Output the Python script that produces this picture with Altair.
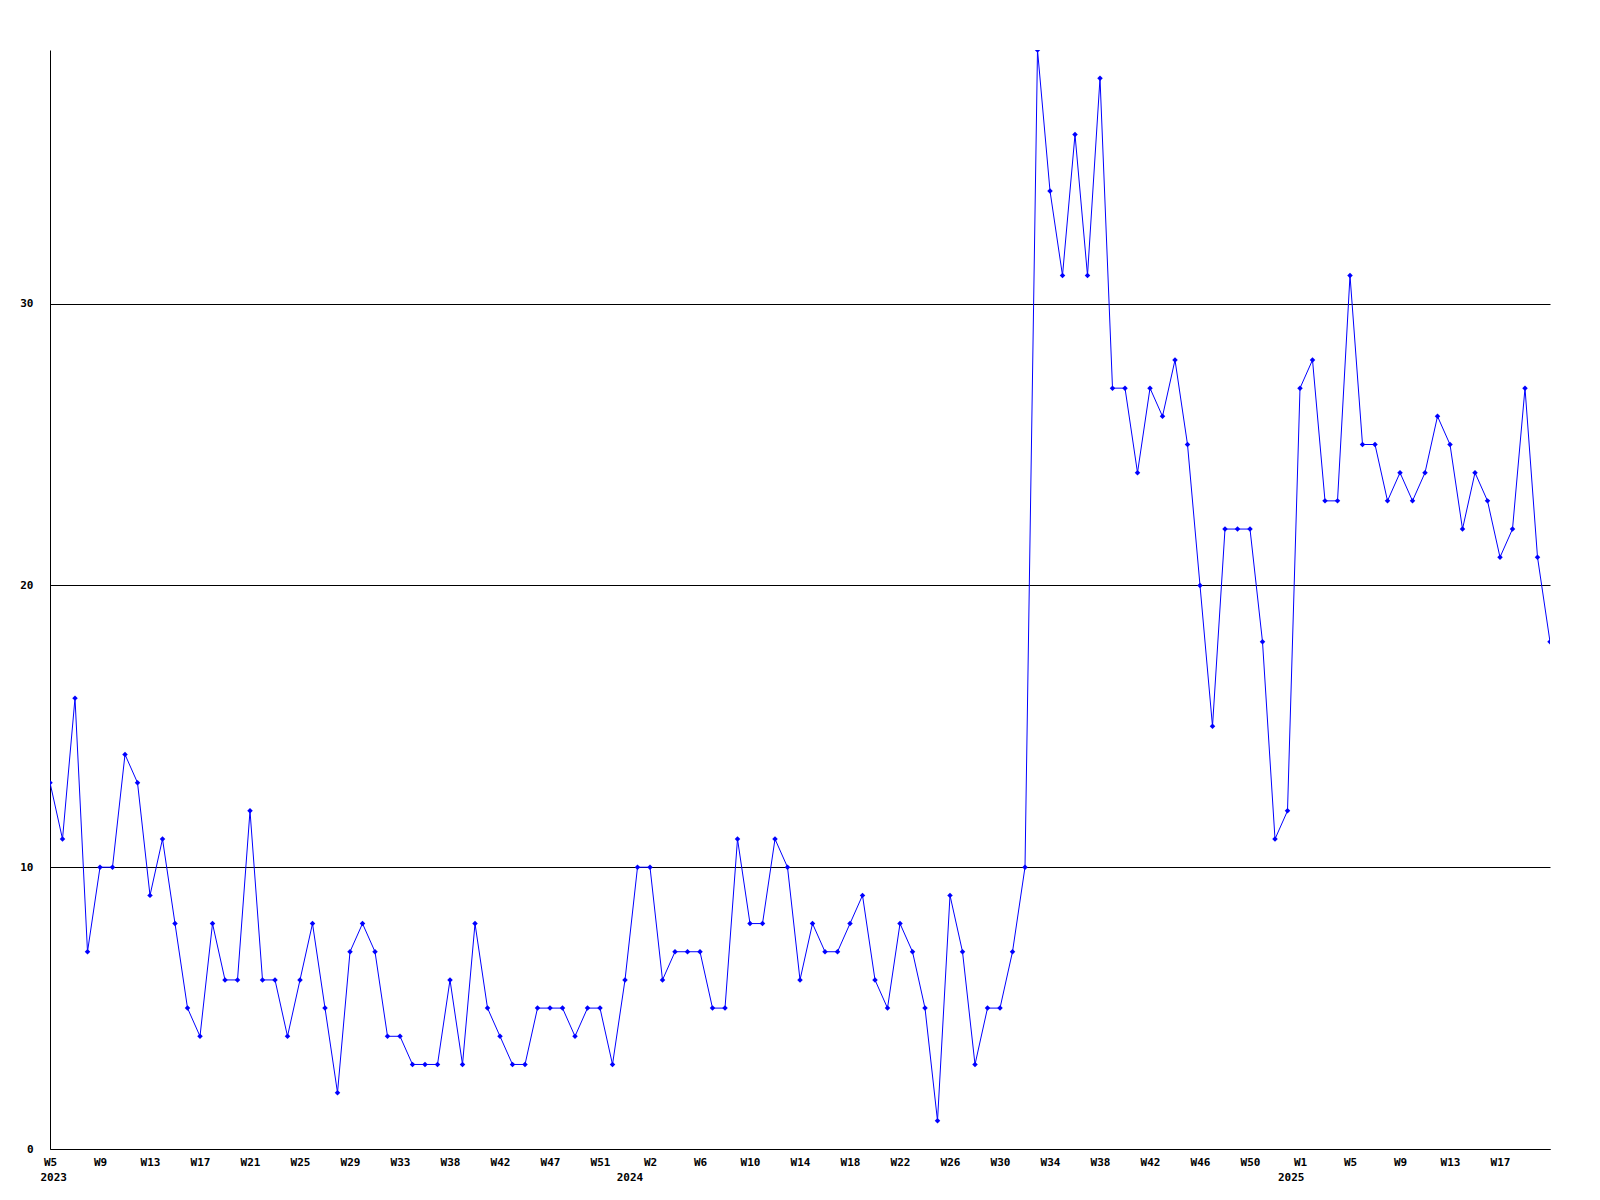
import json
import altair as alt
import pandas as pd

# Weekly values, 2023 W5 .. 2025 W21 (121 points)
values = [
    13, 11, 16, 7, 10, 10, 14, 13, 9, 11, 8, 5, 4, 8, 6, 6, 12, 6, 6, 4,
    6, 8, 5, 2, 7, 8, 7, 4, 4, 3, 3, 3, 6, 3, 8, 5, 4, 3, 3, 5,
    5, 5, 4, 5, 5, 3, 6, 10, 10, 6, 7, 7, 7, 5, 5, 11, 8, 8, 11, 10,
    6, 8, 7, 7, 8, 9, 6, 5, 8, 7, 5, 1, 9, 7, 3, 5, 5, 7, 10,
    39, 34, 31, 36, 31, 38, 27, 27, 24, 27, 26, 28, 25, 20, 15, 22, 22, 22, 18, 11,
    12, 27, 28, 23, 23, 31, 25, 25, 23, 24, 23, 24, 26, 25, 22, 24, 23, 21, 22, 27,
    21, 18,
]

# Tick labels, one every 4th point
tick_labels = [
    "W5", "W9", "W13", "W17", "W21", "W25", "W29", "W33", "W38", "W42",
    "W47", "W51", "W2", "W6", "W10", "W14", "W18", "W22", "W26", "W30",
    "W34", "W38", "W42", "W46", "W50", "W1", "W5", "W9", "W13", "W17",
]
tick_step = 4

# Year labels and where each year starts (in point index units)
year_labels = ["2023", "2024", "2025"]
year_at = [0.3, 46.4, 99.3]

y_ticks = [0, 10, 20, 30]

FONT = "DejaVu Sans Mono"
W, H = 1500, 1099
n = len(values)

df = pd.DataFrame({"i": list(range(n)), "v": values})
years = pd.DataFrame({"x": year_at, "label": year_labels})

tick_positions = [k * tick_step for k in range(len(tick_labels))]
label_expr = json.dumps(tick_labels) + f"[floor(datum.value / {tick_step})]"

xscale = alt.Scale(domain=[0, n - 1], nice=False, zero=False)
yscale = alt.Scale(domain=[0, 39], nice=False, zero=True)

x_enc = alt.X(
    "i:Q",
    scale=xscale,
    axis=alt.Axis(
        values=tick_positions,
        labelExpr=label_expr,
        title=None,
        ticks=False,
        grid=False,
        domainColor="black",
        domainWidth=1,
        labelFont=FONT,
        labelFontWeight="bold",
        labelFontSize=11,
        labelColor="black",
        labelPadding=7,
        labelAngle=0,
        labelFlush=False,
        labelOverlap=False,
    ),
)
y_enc = alt.Y(
    "v:Q",
    scale=yscale,
    axis=alt.Axis(
        values=y_ticks,
        title=None,
        ticks=False,
        grid=True,
        gridColor="black",
        gridOpacity=1,
        gridWidth=1,
        domainColor="black",
        domainWidth=1,
        labelFont=FONT,
        labelFontWeight="bold",
        labelFontSize=11,
        labelColor="black",
        labelPadding=17,
        labelFlush=False,
    ),
)

line = alt.Chart(df).mark_line(color="#0000FF", strokeWidth=1, clip=True).encode(x=x_enc, y=y_enc)
pts = alt.Chart(df).mark_point(
    shape="diamond", filled=True, color="#0000FF", size=30, opacity=1, clip=True
).encode(x=alt.X("i:Q", scale=xscale), y=alt.Y("v:Q", scale=yscale))

yr = alt.Chart(years).mark_text(
    font=FONT, fontWeight="bold", fontSize=11, color="black", align="center", baseline="middle"
).encode(x=alt.X("x:Q", scale=xscale), y=alt.value(H + 29), text="label:N")

chart = (
    alt.layer(line, pts, yr)
    .properties(
        width=W,
        height=H,
        autosize=alt.AutoSizeParams(type="none"),
        padding={"left": 42, "top": 42, "right": 40, "bottom": 45},
        background="white",
    )
    .configure_view(stroke=None)
)

chart.save("out.html", embed_options={"renderer": "svg", "actions": False})
